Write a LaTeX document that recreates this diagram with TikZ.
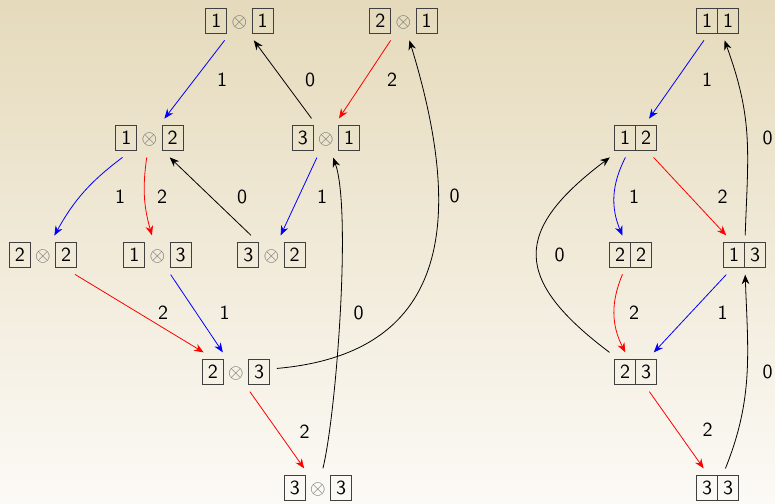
\documentclass[tikz,border=0pt]{standalone}
\usetikzlibrary{arrows.meta}
\definecolor{bgtop}{RGB}{229,218,187}
\definecolor{bgbot}{RGB}{252,250,246}
\newcommand{\bx}[1]{{\setlength{\fboxsep}{2.5pt}\setlength{\fboxrule}{0.5pt}\color{black!75}\fbox{\color{black}#1}}}
\newcommand{\tns}[2]{$\bx{#1}\mathbin{\color{black!60}\otimes}\bx{#2}$}
\newcommand{\prr}[2]{\bx{#1}\kern-0.5pt\bx{#2}}
\tikzset{
  st/.style={font=\sffamily, inner sep=3.3pt, outer sep=0pt},
  lab/.style={font=\sffamily, inner sep=0pt, text=black},
  arr/.style={-{Stealth[length=4.8pt,width=3.8pt]}},
  eone/.style={arr, blue},
  etwo/.style={arr, red},
  ezero/.style={arr, black}
}
\begin{document}
\begin{tikzpicture}[x=0.5pt, y=-0.5pt]
\shade[top color=bgtop, bottom color=bgbot] (0,0) rectangle (775,503);
\useasboundingbox (0,0) rectangle (775,503);
% left diagram nodes
\node[st] (L11) at (239.5,21) {\tns{1}{1}};
\node[st] (L21) at (403.5,21) {\tns{2}{1}};
\node[st] (L12) at (149.5,138) {\tns{1}{2}};
\node[st] (L31) at (326,138) {\tns{3}{1}};
\node[st] (L22) at (43,255) {\tns{2}{2}};
\node[st] (L13) at (157.5,255) {\tns{1}{3}};
\node[st] (L32) at (271.5,255) {\tns{3}{2}};
\node[st] (L23) at (236,372) {\tns{2}{3}};
\node[st] (L33) at (318,488) {\tns{3}{3}};
% right diagram nodes
\node[st] (R11) at (717.5,21) {\prr{1}{1}};
\node[st] (R12) at (635.5,138) {\prr{1}{2}};
\node[st] (R22) at (630.5,255) {\prr{2}{2}};
\node[st] (R13) at (744.5,255) {\prr{1}{3}};
\node[st] (R23) at (635.5,372) {\prr{2}{3}};
\node[st] (R33) at (717.5,488) {\prr{3}{3}};
% left edges
\draw[eone] (L11) -- (L12) node[lab] at (222,80) {1};
\draw[ezero] (L31) -- (L11) node[lab] at (310,80) {0};
\draw[etwo] (L21) -- (L31) node[lab] at (392,80) {2};
\draw[eone] (L12) to[bend right=12] (L22) node[lab] at (120,197) {1};
\draw[etwo] (L12) to[bend right=12] (L13) node[lab] at (162,197) {2};
\draw[ezero] (L32) -- (L12) node[lab] at (242,197) {0};
\draw[eone] (L31) -- (L32) node[lab] at (322,197) {1};
\draw[ezero] (L23) to[out=5,in=287,looseness=1.3] (L21) node[lab] at (454.5,196) {0};
\draw[etwo] (L22) -- (L23) node[lab] at (163,313) {2};
\draw[eone] (L13) -- (L23) node[lab] at (224.5,313) {1};
\draw[ezero] (L33) to[out=76,in=290,looseness=0.45] (L31) node[lab] at (358.5,313) {0};
\draw[etwo] (L23) -- (L33) node[lab] at (304.5,432) {2};
% right edges
\draw[eone] (R11) -- (R12) node[lab] at (707,80) {1};
\draw[ezero] (R13) to[out=88,in=290,looseness=1.1] (R11) node[lab] at (767.5,138) {0};
\draw[eone] (R12) to[bend right=25] (R22) node[lab] at (634,197) {1};
\draw[etwo] (R12) -- (R13) node[lab] at (722.5,197) {2};
\draw[ezero] (R23) to[out=143,in=217,looseness=1.6] (R12) node[lab] at (559.5,255) {0};
\draw[etwo] (R22) to[bend right=25] (R23) node[lab] at (634,313) {2};
\draw[eone] (R13) -- (R23) node[lab] at (722.5,313) {1};
\draw[ezero] (R33) to[out=68,in=272] (R13) node[lab] at (767.5,372) {0};
\draw[etwo] (R23) -- (R33) node[lab] at (707.5,430) {2};
\end{tikzpicture}
\end{document}
